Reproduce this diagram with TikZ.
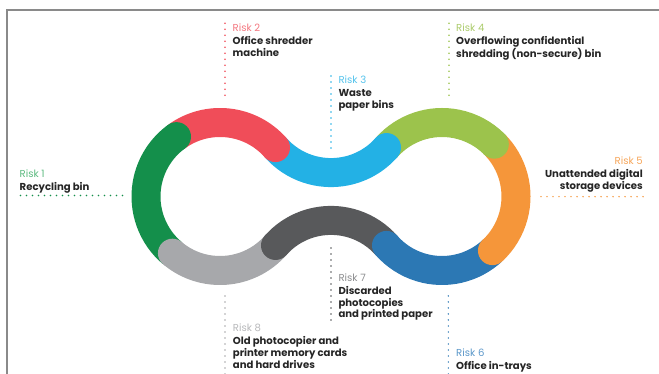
\documentclass[tikz,border=0pt]{standalone}
\usepackage{fontspec}
\setmainfont{Poppins}
\usepackage{tikz}
\usetikzlibrary{positioning}
\definecolor{riskgreen}{HTML}{148F4B}
\definecolor{riskred}{HTML}{F04D59}
\definecolor{riskblue}{HTML}{23B1E5}
\definecolor{risklime}{HTML}{9CC34C}
\definecolor{riskorange}{HTML}{F5963A}
\definecolor{riskdblue}{HTML}{2C78B4}
\definecolor{riskdgray}{HTML}{58595B}
\definecolor{risklgray}{HTML}{A7A8AB}
\definecolor{txtgreen}{HTML}{5DBA80}
\definecolor{txtred}{HTML}{F37880}
\definecolor{txtblue}{HTML}{55C3EC}
\definecolor{txtlime}{HTML}{ABCB6B}
\definecolor{txtorange}{HTML}{F6A65B}
\definecolor{txtdblue}{HTML}{5B97C9}
\definecolor{txtdgray}{HTML}{8C8D8F}
\definecolor{txtlgray}{HTML}{B7B8BA}
\definecolor{txtdark}{HTML}{252525}
\definecolor{framegray}{HTML}{8A8A8A}
\tikzset{band/.style={line width=29pt,line cap=butt}}
\tikzset{leader/.style={line width=1.6pt,line cap=round,dash pattern=on 0pt off 6pt}}
\tikzset{risklabel/.style={inner sep=0pt,text=txtdark,
                           font=\fontsize{10.1}{11.7}\selectfont\bfseries}}
\newcommand{\riskno}[2]{\textcolor{#1}{\mdseries Risk #2}}

\begin{document}
\begin{tikzpicture}[x=1pt,y=1pt]
    \useasboundingbox (0,0) rectangle (659,374);
    \draw[framegray,line width=1.3pt] (7,0) -- (7,364) -- (659,364);
    \coordinate (L) at (220,177.5);
    \coordinate (R) at (442,177.5);
    \coordinate (T) at (331,275.4);
    \coordinate (B) at (331,79.6);
    % Loop
    \foreach \c/\a/\b/\col in {L/230/126/riskgreen,L/126/41.4/riskred,
        T/221.4/318.6/riskblue,R/138.6/45/risklime,R/45/-47/riskorange,
        R/-47/-138.6/riskdblue,B/41.4/138.6/riskdgray,L/-41.4/-130/risklgray}{%
          \draw[band,\col] (\c) ++(\a:74pt) arc[start angle=\a,end angle=\b,radius=74pt];
        }
    \foreach \c/\b/\col in {L/126/riskgreen,L/41.4/riskred,T/318.6/riskblue,
        R/45/risklime,R/-47/riskorange,R/-138.6/riskdblue,B/138.6/riskdgray,
        L/-130/risklgray}{%
          \fill[\col] (\c) ++(\b:74pt) circle (14.5pt);
        }
    % Labels
    \node[risklabel,anchor=north west,align=left] (n1) at (19.5,204.5)
        {\riskno{txtgreen}{1}\\[1.3pt] Recycling bin};
    \node[risklabel,anchor=north west,align=left] (n2) at (232.5,350.5)
        {\riskno{txtred}{2}\\[1.3pt] Office shredder\\ machine};
    \node[risklabel,anchor=north west,align=left] (n3) at (338.3,298.5)
        {\riskno{txtblue}{3}\\[1.3pt] Waste\\ paper bins};
    \node[risklabel,anchor=north west,align=left] (n4) at (456,350.5)
        {\riskno{txtlime}{4}\\[1.3pt] Overflowing confidential\\ shredding (non-secure) bin};
    \node[risklabel,anchor=north east,align=right] (n5) at (643,217.2)
        {\riskno{txtorange}{5}\\[1.3pt] Unattended digital\\ storage devices};
    \node[risklabel,anchor=north west,align=left] (n6) at (456,25.2)
        {\riskno{txtdblue}{6}\\[1.3pt] Office in-trays};
    \node[risklabel,anchor=north west,align=left] (n7) at (338.3,100.5)
        {\riskno{txtdgray}{7}\\[1.3pt] Discarded\\ photocopies\\ and printed paper};
    \node[risklabel,anchor=north west,align=left] (n8) at (232.7,50.2)
        {\riskno{txtlgray}{8}\\[1.3pt] Old photocopier and\\ printer memory cards\\ and hard drives};
    % Leaders
    \coordinate (a1) at (20.5,178.5);  \coordinate (b1) at (125,178.5);
    \coordinate (a2) at (225,350.7);   \coordinate (b2) at (225,274);
    \coordinate (a3) at (331,298);     \coordinate (b3) at (331,222);
    \coordinate (a4) at (449,350.7);   \coordinate (b4) at (449,274);
    \coordinate (a5) at (643,177.3);   \coordinate (b5) at (539,177.3);
    \coordinate (a6) at (448.3,0);     \coordinate (b6) at (448.3,81);
    \coordinate (a7) at (331,54);      \coordinate (b7) at (331,131);
    \coordinate (a8) at (225,0);       \coordinate (b8) at (225,81);
    \foreach \i/\col in {1/riskgreen,2/riskred,3/riskblue,4/risklime,
        5/riskorange,6/riskdblue,7/riskdgray,8/risklgray}{%
          \draw[leader,\col] (a\i) -- (b\i);
        }
\end{tikzpicture}
\end{document}
